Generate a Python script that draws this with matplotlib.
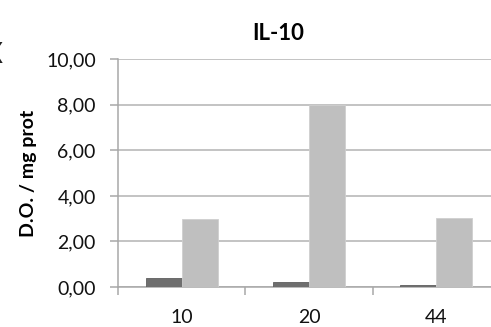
import matplotlib
matplotlib.use("Agg")
import matplotlib.pyplot as plt
import numpy as np

# IL-10 optical density per mg protein
categories = ["10", "20", "44"]
series_dark = [0.40, 0.21, 0.09]
series_light = [2.97, 8.00, 3.03]
y_ticks = [0, 2, 4, 6, 8, 10]
y_tick_labels = ["0,00", "2,00", "4,00", "6,00", "8,00", "10,00"]

plt.rcParams["font.family"] = ["Lato", "DejaVu Sans"]

fig = plt.figure(figsize=(4.91, 3.27), dpi=100)
ax = fig.add_axes([118 / 491, 1 - 287 / 327, 382 / 491, (287 - 59.3) / 327])

x = np.arange(len(categories))
w = 0.283
ax.bar(x - w / 2, series_dark, width=w, color="#6e6e6e", edgecolor="#5e5e5e",
       linewidth=0.6, zorder=3)
ax.bar(x + w / 2, series_light, width=w, color="#bfbfbf", edgecolor="#cfcfcf",
       linewidth=0.6, zorder=3)

ax.set_xlim(-0.5, len(categories) - 0.5)
ax.set_ylim(0, 10)
ax.set_yticks(y_ticks)
ax.set_yticklabels(y_tick_labels, fontsize=14, color="#111111")
ax.yaxis.grid(True, color="#b3b3b3", linewidth=1.1, zorder=0)
ax.set_axisbelow(True)

# category labels centered, tick marks on category boundaries
ax.set_xticks(x)
ax.set_xticklabels(categories, fontsize=14, color="#111111")
ax.tick_params(axis="x", length=0, pad=16)
ax.set_xticks(np.arange(-0.5, len(categories) + 0.5, 1.0), minor=True)
ax.tick_params(axis="x", which="minor", length=6, width=1.1, color="#a8a8a8")
ax.tick_params(axis="y", length=6, width=1.1, color="#a8a8a8", pad=10)

for side in ("top", "right"):
    ax.spines[side].set_visible(False)
for side in ("left", "bottom"):
    ax.spines[side].set_color("#a8a8a8")
    ax.spines[side].set_linewidth(1.1)

ax.set_ylabel("D.O. / mg prot", fontsize=14, fontweight="bold")
ax.yaxis.set_label_coords(-0.212, 0.5)

fig.text(278 / 491, 1 - 33 / 327, "IL-10", fontsize=16, fontweight="bold",
         ha="center", va="center")
fig.text(3 / 491, 1 - 55 / 327, "X", fontsize=20, ha="right", va="center",
         color="#222222")

fig.savefig("out.png", dpi=100)
